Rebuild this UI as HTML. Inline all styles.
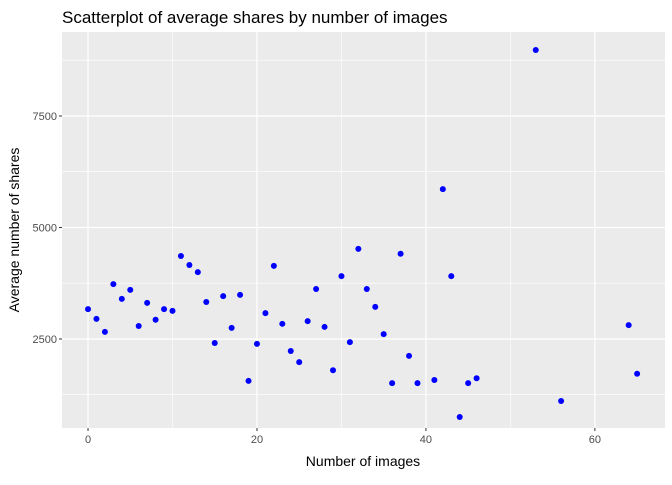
<!DOCTYPE html>
<html><head><meta charset="utf-8"><style>
body{margin:0;background:#fff;font-family:"Liberation Sans",sans-serif;}
svg text{font-family:"Liberation Sans",sans-serif;}
</style></head><body>
<svg id="chart" width="672" height="480" xmlns="http://www.w3.org/2000/svg">
<rect width="672" height="480" fill="#fff"/>
<text x="62" y="23" font-size="17" fill="#000">Scatterplot of average shares by number of images</text>
<rect x="62" y="32" width="603" height="396" fill="#ebebeb"/>
<g id="grid"></g><g id="pts"></g><g id="axes"></g>
<text x="363" y="466" font-size="14" text-anchor="middle">Number of images</text>
<text transform="translate(19,230) rotate(-90)" font-size="14" text-anchor="middle">Average number of shares</text>
</svg>
<script>
const images=[0,1,2,3,4,5,6,7,8,9,10,11,12,13,14,15,16,17,18,19,20,21,22,23,24,25,26,27,28,29,30,31,32,33,34,35,36,37,38,39,41,42,43,44,45,46,53,56,64,65];
const shares=[3170,2950,2660,3730,3400,3600,2790,3310,2930,3170,3130,4360,4160,4000,3330,2410,3460,2750,3490,1560,2390,3080,4140,2840,2230,1980,2900,3620,2770,1800,3910,2430,4520,3620,3220,2610,1510,4410,2120,1510,1580,5860,3910,750,1510,1620,8980,1110,2810,1720];
const xTicks=[0,20,40,60];
const yTicks=[2500,5000,7500];
const NS="http://www.w3.org/2000/svg";
const L=62,R=665,T=32,B=428;
const xmin=-3.08,xmax=68.3,ymin=504,ymax=9383;
const sx=v=>L+(v-xmin)/(xmax-xmin)*(R-L);
const sy=v=>B-(v-ymin)/(ymax-ymin)*(B-T);
function mk(tag,a,parent){const e=document.createElementNS(NS,tag);for(const k in a)e.setAttribute(k,a[k]);document.getElementById(parent).appendChild(e);return e;}
const grid='grid';
for(let i=0;i<xTicks.length;i++){const v=xTicks[i]+10;const ln=mk('line',{x1:sx(v),x2:sx(v),y1:T,y2:B,stroke:'#fff','stroke-width':0.6},grid);}
for(const v of [1250,3750,6250,8750]){const ln=mk('line',{x1:L,x2:R,y1:sy(v),y2:sy(v),stroke:'#fff','stroke-width':0.6},grid);}
xTicks.forEach(v=>{const ln=mk('line',{x1:sx(v),x2:sx(v),y1:T,y2:B,stroke:'#fff','stroke-width':1.2},grid);
const tk=mk('line',{x1:sx(v),x2:sx(v),y1:B,y2:B+3,stroke:'#333'},'axes');
const t=mk('text',{x:sx(v),y:B+15,'font-size':11,fill:'#4d4d4d','text-anchor':'middle'},'axes');t.textContent=v;});
yTicks.forEach(v=>{const ln=mk('line',{x1:L,x2:R,y1:sy(v),y2:sy(v),stroke:'#fff','stroke-width':1.2},grid);
const tk=mk('line',{x1:L-3,x2:L,y1:sy(v),y2:sy(v),stroke:'#333'},'axes');
const t=mk('text',{x:L-5,y:sy(v)+4,'font-size':11,fill:'#4d4d4d','text-anchor':'end'},'axes');t.textContent=v;});
images.forEach((x,i)=>{const c=mk('circle',{cx:sx(x),cy:sy(shares[i]),r:3,fill:'#0000ff'},'pts');});
</script>
</body></html>
